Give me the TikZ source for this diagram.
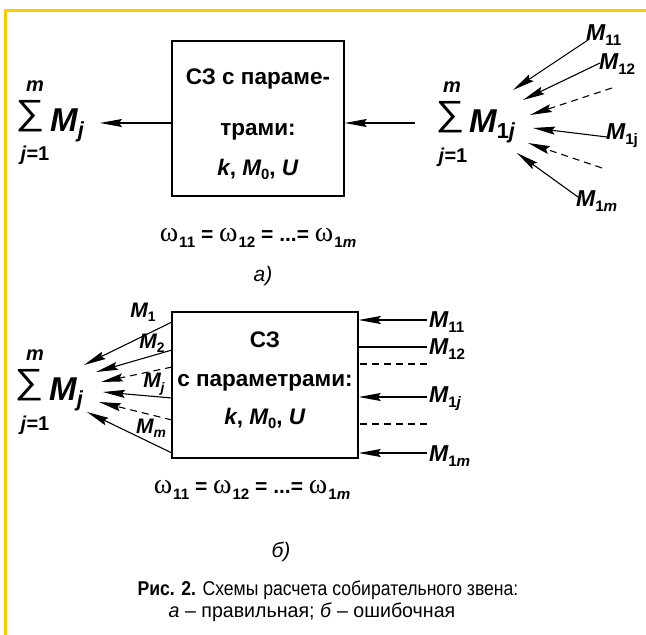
\documentclass[tikz,border=0pt]{standalone}
\usepackage{fontspec}
\usepackage{graphicx}
\setmainfont{Liberation Sans}
\newfontfamily\capfont[FakeStretch=0.88]{Liberation Sans}
\newfontfamily\capfontw[FakeStretch=0.98]{Liberation Sans}
\newfontfamily\greekfont{Liberation Serif}
\usetikzlibrary{arrows.meta, positioning}
\definecolor{frameyellow}{RGB}{255,204,0}

% variable with a lowered subscript
\newcommand{\Msub}[1]{\textit{M}\kern-0.5pt\raisebox{-0.4ex}{\scalebox{0.66}{#1}}}
\newcommand{\omg}[1]{{\greekfont\mdseries\fontsize{28}{28}\selectfont ω}\kern1pt\raisebox{-0.55ex}{\scalebox{0.72}{#1}}}
\newcommand{\bigsum}{\scalebox{1.15}[1]{∑}}

\tikzset{
  block/.style={draw, line width=1.5pt},
  boxtext/.style={font=\fontsize{22.5}{24}\selectfont\bfseries, anchor=base, inner sep=0pt},
  sumsign/.style={font=\fontsize{35}{35}\selectfont, inner sep=0pt},
  bigvar/.style={font=\fontsize{33}{33}\selectfont\bfseries, anchor=base west, inner sep=0pt},
  limit/.style={font=\fontsize{20}{20}\selectfont\bfseries, inner sep=0pt},
  lbl/.style={font=\fontsize{23}{23}\selectfont\bfseries, inner sep=0pt},
  lbls/.style={font=\fontsize{21}{21}\selectfont\bfseries, inner sep=0pt},
  omline/.style={font=\fontsize{21}{21}\selectfont\bfseries, inner sep=0pt},
  tag/.style={font=\fontsize{21}{21}\selectfont\itshape, inner sep=0pt},
  caption/.style={font=\capfont\fontsize{20}{22}\selectfont, inner sep=0pt},
  captionw/.style={font=\capfontw\fontsize{20}{22}\selectfont, inner sep=0pt},
  fan/.style={line width=1.1pt, -{Stealth[length=22pt, width=8pt, inset=3pt]}},
  bare/.style={line width=1.1pt},
  gap/.style={line width=1.1pt, dash pattern=on 7pt off 5pt},
  dsh/.style={dash pattern=on 7pt off 5pt}
}

\begin{document}
\begin{tikzpicture}[x=1pt, y=-1pt]
\useasboundingbox (0,0) rectangle (646,635);
\draw[frameyellow, line width=3pt] (5.5,635) -- (5.5,10) -- (646,10);

% a) correct scheme
\node[block, minimum width=172pt, minimum height=155pt] (boxa) at (258,118.5) {};
\node[boxtext] (ta1) at (258,84) {СЗ с параме-};
\node[boxtext] (ta2) at (258,135) {трами:};
\node[boxtext] (ta3) at (258,175) {\textit{k}, \Msub{0}, \textit{U}};

\node[sumsign] (suma) at (30,116) {\bigsum};
\node[limit] (ma) at (35,86) {\textit{m}};
\node[limit] (ja) at (35,155) {\textit{j}=1};
\node[bigvar] (Ma) at (50,131) {\Msub{\textit{j}}};
\coordinate (outa) at (100,123);
\draw[fan] (boxa.west |- outa) -- (outa);

\node[sumsign] (sumr) at (450,117) {\bigsum};
\node[limit] (mr) at (452,87) {\textit{m}};
\node[limit] (jr) at (453,157) {\textit{j}=1};
\node[bigvar] (Mr) at (469,132) {\Msub{1\textit{j}}};
\coordinate (ina) at (415,123);
\draw[fan] (ina) -- (boxa.east |- ina);

\foreach \n/\sx/\sy/\tx/\ty/\ls in {1/588/40/513/90/solid, 2/600/63/523/100/solid,
    3/612/88/530/115/dsh, 4/607/137/533/128/solid, 5/602/168/528/143/dsh, 6/578/197/517/153/solid} {
  \coordinate (fs\n) at (\sx,\sy);
  \coordinate (ft\n) at (\tx,\ty);
  \draw[fan, \ls] (fs\n) -- (ft\n);
}
\node[lbl, anchor=west] (la1) at (586,35) {\Msub{11}};
\node[lbl, anchor=west] (la2) at (599,64) {\Msub{12}};
\node[lbl, anchor=west] (la4) at (606,136) {\Msub{1j}};
\node[lbl, anchor=west] (la6) at (576,201) {\Msub{1\textit{m}}};

\node[omline] (wa) at (258,238) {\omg{11} = \omg{12} = ...= \omg{1\textit{m}}};
\node[tag] (capa) at (263,276) {а)};

% b) wrong scheme
\node[block, minimum width=186pt, minimum height=146pt] (boxb) at (265,385) {};
\node[boxtext] (tb1) at (265,347) {СЗ};
\node[boxtext] (tb2) at (265,386) {с параметрами:};
\node[boxtext] (tb3) at (265,424) {\textit{k}, \Msub{0}, \textit{U}};

\node[sumsign] (sumb) at (29,385) {\bigsum};
\node[limit] (mb) at (35,355) {\textit{m}};
\node[limit] (jb) at (35,425) {\textit{j}=1};
\node[bigvar] (Mb) at (49,400) {\Msub{\textit{j}}};

\foreach \n/\sy/\tx/\ty/\ls in {1/322/84/365/solid, 2/350/96/372/solid, 3/367/101/382/dsh,
    4/398/103/392/solid, 5/420/99/402/dsh, 6/453/87/412/solid} {
  \coordinate (bs\n) at (172,\sy);
  \coordinate (bt\n) at (\tx,\ty);
  \draw[fan, \ls] (bs\n) -- (bt\n);
}
\node[lbls] (lb1) at (143,312) {\Msub{1}};
\node[lbls] (lb2) at (152,343) {\Msub{2}};
\node[lbls] (lb4) at (154,384) {\Msub{\textit{j}}};
\node[lbls] (lb6) at (151,428) {\Msub{\textit{m}}};

\foreach \n/\y/\st in {1/320/fan, 2/347/bare, 3/364/gap, 4/397/fan, 5/424/gap, 6/453/fan} {
  \coordinate (rs\n) at (427,\y);
  \draw[\st] (rs\n) -- (boxb.east |- rs\n);
}
\node[lbl, anchor=west] (lr1) at (429,322) {\Msub{11}};
\node[lbl, anchor=west] (lr2) at (429,349) {\Msub{12}};
\node[lbl, anchor=west] (lr4) at (429,399) {\Msub{1\textit{j}}};
\node[lbl, anchor=west] (lr6) at (429,456) {\Msub{1\textit{m}}};

\node[omline] (wb) at (252,490) {\omg{11} = \omg{12} = ...= \omg{1\textit{m}}};
\node[tag] (capb) at (281,552) {б)};

% caption
\node[caption] (cap1) at (328,590) {\textbf{Рис. 2.} Схемы расчета собирательного звена:};
\node[captionw] (cap2) at (312,612) {\textit{а} – правильная; \textit{б} – ошибочная};
\end{tikzpicture}
\end{document}
